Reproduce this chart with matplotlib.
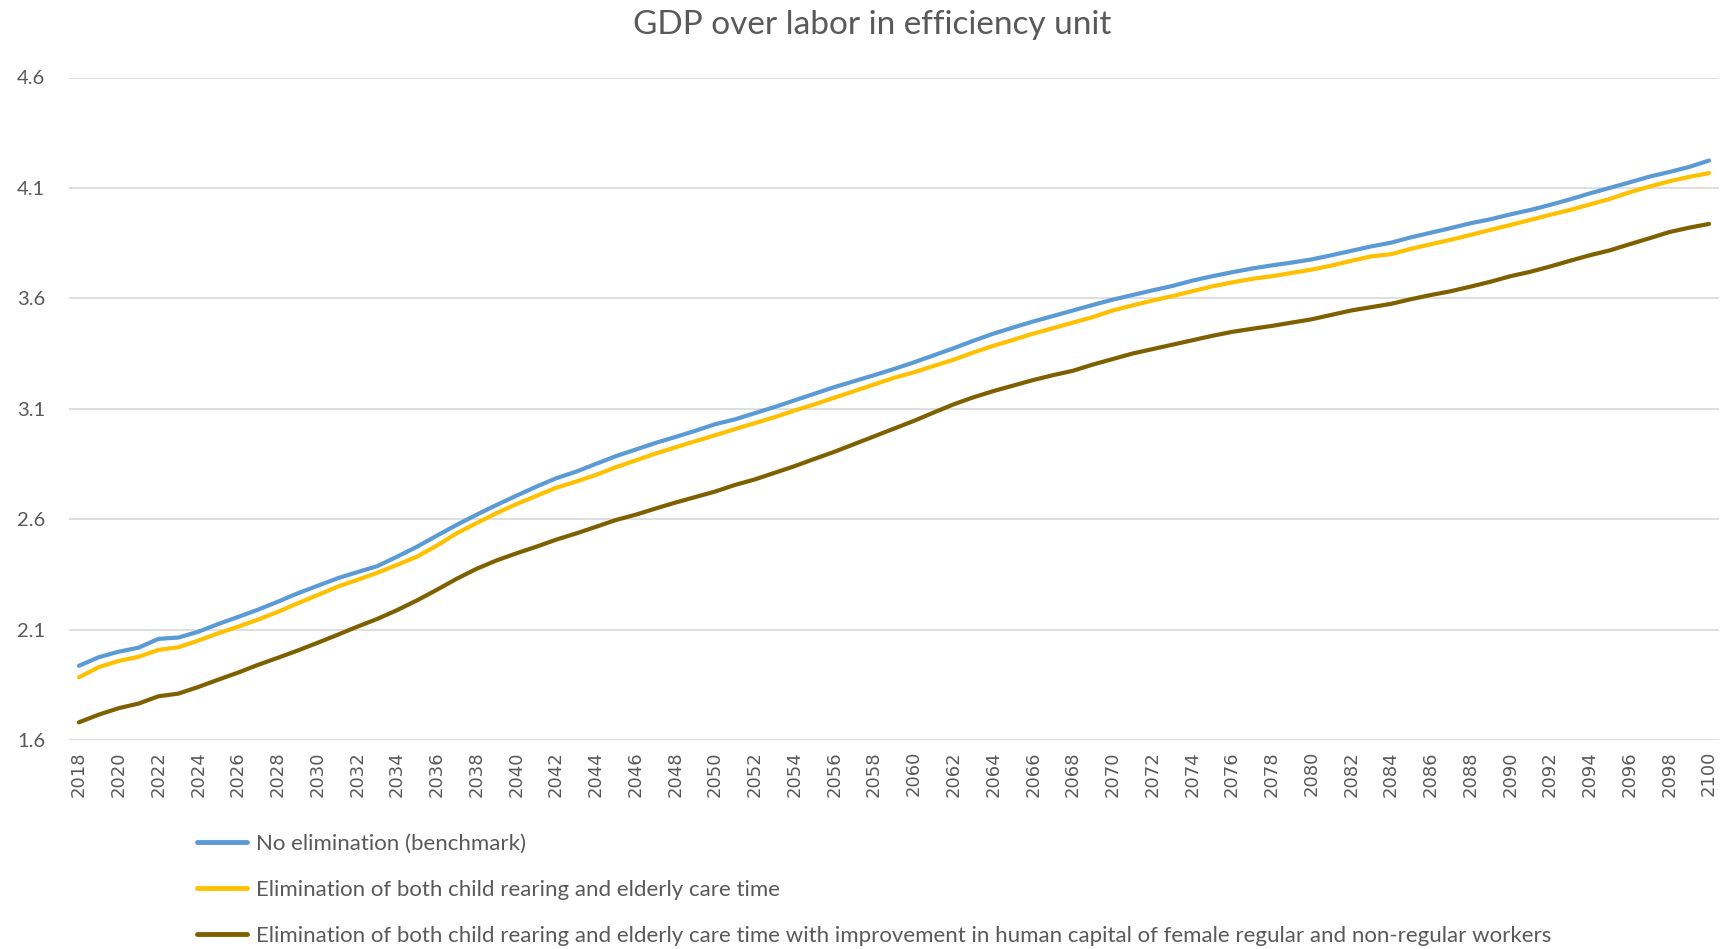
import matplotlib
matplotlib.use("Agg")
import matplotlib.pyplot as plt
import numpy as np

years = list(range(2018, 2101))

no_elimination = [
    1.936, 1.975, 2.000, 2.018, 2.058, 2.064, 2.090, 2.125, 2.157, 2.190,
    2.226, 2.264, 2.298, 2.332, 2.360, 2.387, 2.430, 2.475, 2.525, 2.574,
    2.620, 2.664, 2.706, 2.747, 2.785, 2.815, 2.850, 2.885, 2.915, 2.945,
    2.972, 3.000, 3.030, 3.052, 3.080, 3.108, 3.138, 3.168, 3.198, 3.225,
    3.252, 3.280, 3.310, 3.342, 3.374, 3.408, 3.440, 3.468, 3.495, 3.520,
    3.545, 3.570, 3.594, 3.615, 3.636, 3.656, 3.680, 3.700, 3.718, 3.735,
    3.749, 3.762, 3.776, 3.795, 3.815, 3.835, 3.852, 3.876, 3.897, 3.918,
    3.940, 3.958, 3.980, 4.000, 4.023, 4.048, 4.075, 4.100, 4.125, 4.151,
    4.172, 4.195, 4.224,
]

elim_care = [
    1.884, 1.930, 1.958, 1.977, 2.008, 2.020, 2.050, 2.083, 2.113, 2.145,
    2.180, 2.219, 2.256, 2.294, 2.325, 2.357, 2.393, 2.430, 2.480, 2.536,
    2.582, 2.627, 2.668, 2.705, 2.742, 2.770, 2.800, 2.835, 2.866, 2.897,
    2.925, 2.953, 2.980, 3.008, 3.035, 3.062, 3.092, 3.120, 3.150, 3.180,
    3.210, 3.240, 3.265, 3.294, 3.322, 3.355, 3.385, 3.412, 3.440, 3.465,
    3.490, 3.515, 3.545, 3.568, 3.590, 3.610, 3.632, 3.654, 3.672, 3.688,
    3.700, 3.715, 3.730, 3.748, 3.770, 3.790, 3.800, 3.824, 3.845, 3.865,
    3.887, 3.910, 3.932, 3.955, 3.978, 4.000, 4.025, 4.050, 4.080, 4.106,
    4.130, 4.150, 4.167,
]

elim_care_hc = [
    1.680, 1.715, 1.744, 1.765, 1.798, 1.810, 1.840, 1.873, 1.905, 1.940,
    1.972, 2.005, 2.040, 2.076, 2.113, 2.148, 2.188, 2.232, 2.280, 2.330,
    2.375, 2.413, 2.445, 2.475, 2.507, 2.535, 2.565, 2.596, 2.620, 2.648,
    2.675, 2.700, 2.725, 2.755, 2.780, 2.810, 2.840, 2.873, 2.905, 2.940,
    2.975, 3.010, 3.045, 3.083, 3.120, 3.152, 3.180, 3.205, 3.230, 3.252,
    3.272, 3.300, 3.325, 3.350, 3.370, 3.390, 3.410, 3.430, 3.448, 3.462,
    3.475, 3.490, 3.505, 3.525, 3.545, 3.560, 3.575, 3.596, 3.615, 3.632,
    3.653, 3.675, 3.700, 3.720, 3.744, 3.770, 3.795, 3.817, 3.845, 3.872,
    3.900, 3.920, 3.937,
]

series_labels = [
    "No elimination (benchmark)",
    "Elimination of both child rearing and elderly care time",
    "Elimination of both child rearing and elderly care time with improvement in human capital of female regular and non-regular workers",
]
y_ticks = [1.6, 2.1, 2.6, 3.1, 3.6, 4.1, 4.6]
title = "GDP over labor in efficiency unit"

colors = ["#5B9BD5", "#FFC000", "#7F6000"]
text_color = "#595959"

fig = plt.figure(figsize=(17.31, 9.49), dpi=100)
ax = fig.add_axes([69 / 1731, 1 - 740 / 949, (1719 - 69) / 1731, (740 - 77.5) / 949])

for vals, col, lab in zip([no_elimination, elim_care, elim_care_hc], colors, series_labels):
    ax.plot(years, vals, color=col, lw=3.0, label=lab, solid_capstyle="round", solid_joinstyle="round")

ax.set_xlim(2017.5, 2100.5)
ax.set_ylim(1.6, 4.6)
ax.set_yticks(y_ticks)
ax.set_yticklabels([f"{v:.1f}" for v in y_ticks], fontsize=14.5, color=text_color, family=["Lato", "DejaVu Sans"])
ax.set_xticks(years[::2])
ax.set_xticklabels([str(y) for y in years[::2]], rotation=90, fontsize=13, color=text_color,
                   family=["DejaVu Sans"])
ax.tick_params(axis="both", length=0)
ax.tick_params(axis="y", pad=17)
ax.tick_params(axis="x", pad=8)
ax.grid(axis="y", color="#D9D9D9", lw=1.2)
ax.set_axisbelow(True)
for s in ax.spines.values():
    s.set_visible(False)

fig.text(872 / 1731, 1 - 25 / 949, title, ha="center", va="center",
         fontsize=24, color=text_color, family=["Lato", "DejaVu Sans"])

handles, labels = ax.get_legend_handles_labels()
leg = fig.legend(handles, labels, loc="upper left", bbox_to_anchor=(197 / 1731, 1 - 834 / 949),
                 frameon=False, borderpad=0, borderaxespad=0, handlelength=2.25, handletextpad=0.4,
                 labelspacing=1.17, prop={"family": "Lato", "size": 16})
for t in leg.get_texts():
    t.set_color(text_color)
for h in leg.get_lines():
    h.set_linewidth(3.5)

fig.savefig("out.png", dpi=100, facecolor="white")
